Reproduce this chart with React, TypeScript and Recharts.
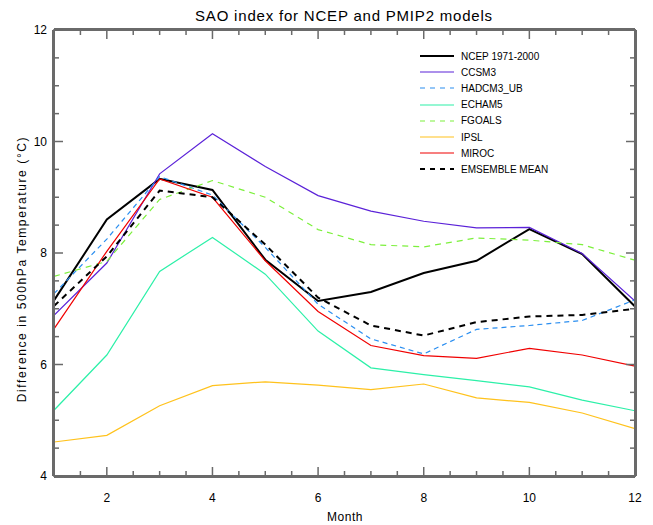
import React from 'react'
import { LineChart, Line, XAxis, YAxis } from 'recharts'

const months = [1, 2, 3, 4, 5, 6, 7, 8, 9, 10, 11, 12]

const ncep = [7.15, 8.6, 9.33, 9.13, 7.88, 7.14, 7.3, 7.64, 7.86, 8.43, 7.98, 7.04]
const ccsm3 = [6.88, 7.82, 9.42, 10.14, 9.55, 9.03, 8.75, 8.57, 8.45, 8.46, 7.99, 7.14]
const hadcm3 = [7.27, 8.25, 9.37, 9.04, 8.1, 7.08, 6.46, 6.19, 6.63, 6.7, 6.79, 7.16]
const echam5 = [5.18, 6.17, 7.67, 8.28, 7.62, 6.6, 5.94, 5.82, 5.71, 5.6, 5.36, 5.17]
const fgoals = [7.58, 7.85, 8.96, 9.3, 9.0, 8.42, 8.15, 8.11, 8.27, 8.23, 8.15, 7.87]
const ipsl = [4.61, 4.73, 5.26, 5.62, 5.69, 5.63, 5.55, 5.65, 5.4, 5.32, 5.13, 4.85]
const miroc = [6.64, 8.03, 9.33, 9.0, 7.86, 6.95, 6.34, 6.16, 6.11, 6.29, 6.17, 5.97]
const ensemble = [7.05, 7.94, 9.12, 9.0, 8.15, 7.2, 6.7, 6.52, 6.76, 6.86, 6.89, 7.0]

const xMajorTicks = [2, 4, 6, 8, 10, 12]
const xMinorTicks = [1.5, 2.5, 3, 3.5, 4.5, 5, 5.5, 6.5, 7, 7.5, 8.5, 9, 9.5, 10.5, 11, 11.5]
const yMajorTicks = [4, 6, 8, 10, 12]
const yMinorTicks = [4.5, 5, 5.5, 6.5, 7, 7.5, 8.5, 9, 9.5, 10.5, 11, 11.5]

const series = [
  { key: 'ncep', name: 'NCEP 1971-2000', values: ncep, color: '#000000', width: 2, dash: undefined },
  { key: 'ccsm3', name: 'CCSM3', values: ccsm3, color: '#5b22d8', width: 1.2, dash: undefined },
  { key: 'hadcm3', name: 'HADCM3_UB', values: hadcm3, color: '#2a8ef0', width: 1.2, dash: '5 4' },
  { key: 'echam5', name: 'ECHAM5', values: echam5, color: '#2cf0a8', width: 1.2, dash: undefined },
  { key: 'fgoals', name: 'FGOALS', values: fgoals, color: '#7cf03c', width: 1.2, dash: '6 5' },
  { key: 'ipsl', name: 'IPSL', values: ipsl, color: '#ffc21c', width: 1.2, dash: undefined },
  { key: 'miroc', name: 'MIROC', values: miroc, color: '#f00000', width: 1.2, dash: undefined },
  { key: 'ensemble', name: 'EMSEMBLE MEAN', values: ensemble, color: '#000000', width: 2, dash: '6 5' },
]

const data = months.map((m, i) => {
  const row: any = { month: m }
  series.forEach(s => { row[s.key] = s.values[i] })
  return row
})

const axisColor = '#6a6a6a'
const font = '"Liberation Sans", Arial, sans-serif'
const labelStyle = { fontSize: 12, fontFamily: font, fill: '#000' }
const blank = () => ''

// shared axis props; negative tickSize makes the marks point into the plot
const xCommon = {
  dataKey: 'month',
  type: 'number' as const,
  domain: [1, 12],
  interval: 0 as const,
  allowDataOverflow: true,
  tickLine: { stroke: axisColor, strokeWidth: 1.5 },
  axisLine: { stroke: axisColor, strokeWidth: 2 },
}
const yCommon = {
  type: 'number' as const,
  domain: [4, 12],
  interval: 0 as const,
  allowDataOverflow: true,
  tickLine: { stroke: axisColor, strokeWidth: 1.5 },
  axisLine: { stroke: axisColor, strokeWidth: 2 },
}

export default function App() {
  return (
    <div style={{ position: 'absolute', left: 0, top: 0, width: 653, height: 525, background: '#fff', fontFamily: font }}>
      <LineChart width={653} height={525} data={data} margin={{ top: 28, right: 16, left: 0, bottom: 0 }}>
        {/* axes stack by id: the "0" (minor) ids sit on the plot edge, "1" (major) ids outside them */}
        <XAxis {...xCommon} xAxisId="b1" ticks={xMajorTicks} height={48} tickSize={-10} tickMargin={26} tick={labelStyle} />
        <XAxis {...xCommon} xAxisId="b0" ticks={xMinorTicks} height={1} tickSize={-5} tick={labelStyle} tickFormatter={blank} />
        <XAxis {...xCommon} xAxisId="t1" orientation="top" ticks={xMajorTicks} height={1} tickSize={-10} tick={labelStyle} tickFormatter={blank} />
        <XAxis {...xCommon} xAxisId="t0" orientation="top" ticks={xMinorTicks} height={1} tickSize={-5} tick={labelStyle} tickFormatter={blank} />
        <YAxis {...yCommon} yAxisId="l1" ticks={yMajorTicks} width={53} tickSize={-10} tickMargin={16} tick={labelStyle} />
        <YAxis {...yCommon} yAxisId="l0" ticks={yMinorTicks} width={1} tickSize={-5} tick={labelStyle} tickFormatter={blank} />
        <YAxis {...yCommon} yAxisId="r1" orientation="right" ticks={yMajorTicks} width={1} tickSize={-10} tick={labelStyle} tickFormatter={blank} />
        <YAxis {...yCommon} yAxisId="r0" orientation="right" ticks={yMinorTicks} width={1} tickSize={-5} tick={labelStyle} tickFormatter={blank} />
        {series.map(s => (
          <Line
            key={s.key}
            xAxisId="b1"
            yAxisId="l1"
            type="linear"
            dataKey={s.key}
            name={s.name}
            stroke={s.color}
            strokeWidth={s.width}
            strokeDasharray={s.dash}
            dot={false}
            activeDot={false}
            isAnimationActive={false}
          />
        ))}
      </LineChart>

      <div style={{ position: 'absolute', left: 0, width: 688, top: 7, textAlign: 'center', fontSize: 15, letterSpacing: 0.8 }}>
        SAO index for NCEP and PMIP2 models
      </div>
      <div style={{ position: 'absolute', left: 0, width: 690, top: 510, textAlign: 'center', fontSize: 12, letterSpacing: 0.5 }}>
        Month
      </div>
      <div
        style={{
          position: 'absolute',
          left: 22,
          top: 270,
          width: 340,
          marginLeft: -170,
          marginTop: -8,
          textAlign: 'center',
          fontSize: 12,
          letterSpacing: 1.6,
          whiteSpace: 'nowrap',
          transform: 'rotate(-90deg)',
        }}
      >
        Difference in 500hPa Temperature (°C)
      </div>

      <div style={{ position: 'absolute', left: 420, top: 48 }}>
        {series.map(s => (
          <div key={s.key} style={{ display: 'flex', alignItems: 'center', height: 16.2 }}>
            <svg width={34} height={6} style={{ marginRight: 7 }}>
              <line x1={0} x2={34} y1={3} y2={3} stroke={s.color} strokeWidth={s.width} strokeDasharray={s.dash ? '5 5' : undefined} />
            </svg>
            <span style={{ fontSize: 10, letterSpacing: 0, whiteSpace: 'nowrap' }}>{s.name}</span>
          </div>
        ))}
      </div>
    </div>
  )
}
